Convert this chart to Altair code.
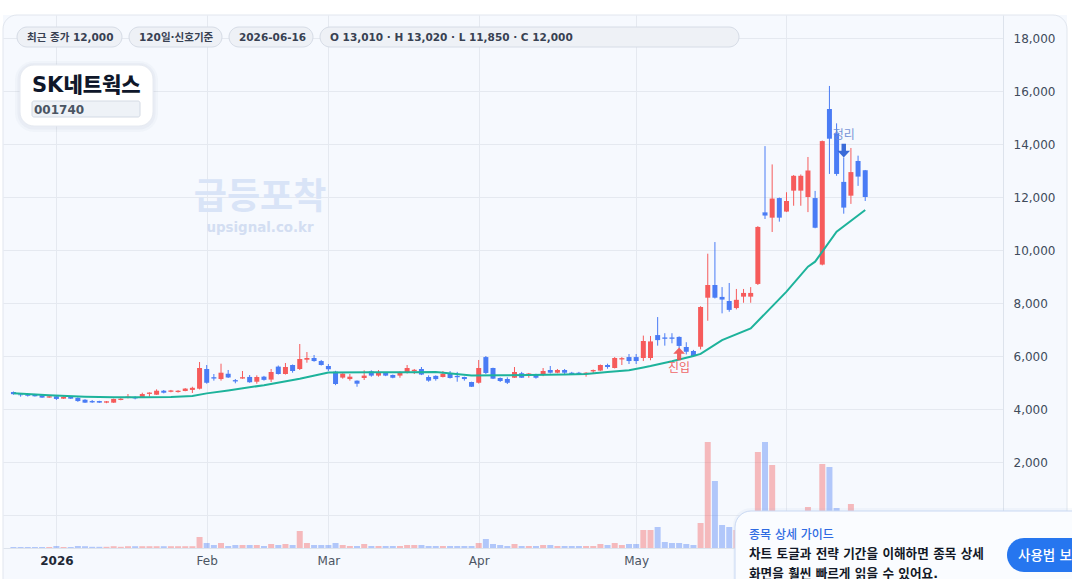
import altair as alt
import pandas as pd

# ---------------- data ----------------
opens = [4640, 4550, 4530, 4550, 4520, 4430, 4480, 4390, 4470, 4420,
         4350, 4300, 4300, 4240, 4240, 4340, 4415, 4440, 4455, 4570,
         4540, 4690, 4650, 4640, 4680, 4720, 4766, 5510, 5200, 5130,
         5330, 5090, 5150, 5210, 5030, 5220, 5110, 5600, 5320, 5660,
         5510, 5860, 5925, 5810, 5623, 5410, 5185, 5130, 5070, 5170,
         5420, 5260, 5360, 5283, 5260, 5370, 5430, 5510, 5207, 5250,
         5207, 5330, 5250, 5207, 5020, 4990, 5960, 5547, 5170, 5132,
         5180, 5350, 5290, 5283, 5283, 5472, 5370, 5472, 5370, 5370,
         5320, 5420, 5450, 5660, 5547, 5870, 5960, 5960, 5925, 5925,
         6790, 6700, 6700, 6720, 6340, 6190, 6350, 8200, 8680, 8230,
         8075, 7810, 8240, 8240, 8720, 11420, 11220, 11960, 11450, 12240,
         12240, 12000, 11960, 9450, 15320, 14400, 12570, 12050, 13360, 13010]
highs = [4660, 4590, 4560, 4570, 4530, 4500, 4490, 4480, 4480, 4440,
         4370, 4340, 4310, 4300, 4390, 4410, 4566, 4480, 4615, 4630,
         4743, 4717, 4720, 4710, 4790, 4840, 5774, 5660, 5320, 5710,
         5472, 5132, 5434, 5283, 5270, 5250, 5510, 5640, 5736, 5680,
         6453, 6150, 6038, 5850, 5698, 5440, 5350, 5320, 5080, 5460,
         5460, 5470, 5380, 5300, 5420, 5660, 5510, 5585, 5270, 5270,
         5434, 5434, 5400, 5220, 5030, 5850, 6000, 5560, 5190, 5196,
         5585, 5400, 5360, 5330, 5547, 5623, 5510, 5510, 5400, 5400,
         5390, 5490, 5680, 5710, 5960, 5960, 6075, 6075, 6770, 6755,
         7470, 6860, 6860, 6740, 6520, 6230, 7880, 9860, 10300, 8600,
         8755, 8530, 8530, 8600, 10900, 13920, 13230, 11980, 12180, 12830,
         12850, 13510, 12230, 14130, 16190, 14780, 13490, 13850, 13560, 13020]
lows = [4540, 4465, 4470, 4470, 4420, 4420, 4340, 4380, 4380, 4270,
        4230, 4230, 4230, 4220, 4230, 4330, 4400, 4365, 4440, 4465,
        4530, 4590, 4630, 4620, 4670, 4604, 4740, 4955, 5070, 5070,
        5170, 4970, 5140, 4990, 4955, 5070, 5020, 5300, 5300, 5370,
        5472, 5747, 5785, 5640, 5434, 4900, 5145, 5070, 4840, 5094,
        5220, 5220, 5240, 5160, 5180, 5340, 5320, 5280, 5030, 5070,
        5190, 5150, 5030, 5070, 4830, 4960, 5320, 5130, 5020, 4943,
        5170, 5170, 5180, 5145, 5240, 5340, 5350, 5283, 5283, 5300,
        5220, 5350, 5430, 5520, 5530, 5660, 5698, 5698, 5810, 5840,
        6390, 6390, 6480, 6290, 6060, 5980, 6250, 7330, 8170, 7610,
        7670, 7760, 8010, 8010, 8680, 11170, 10680, 11070, 11430, 11670,
        11670, 11430, 10820, 9420, 12870, 12800, 11370, 11740, 12420, 11850]
closes = [4560, 4520, 4500, 4480, 4430, 4480, 4380, 4460, 4390, 4300,
          4240, 4250, 4240, 4290, 4380, 4390, 4470, 4400, 4565, 4620,
          4690, 4615, 4700, 4690, 4770, 4800, 5547, 4990, 5150, 5370,
          5190, 5040, 5200, 5010, 5207, 5100, 5397, 5320, 5585, 5434,
          5887, 5925, 5810, 5660, 5500, 4943, 5335, 5220, 4955, 5260,
          5260, 5370, 5260, 5180, 5370, 5547, 5480, 5300, 5070, 5130,
          5330, 5170, 5200, 5130, 4840, 5547, 5360, 5145, 5057, 4990,
          5397, 5180, 5340, 5180, 5434, 5370, 5472, 5370, 5320, 5320,
          5370, 5470, 5660, 5585, 5925, 5920, 5810, 5810, 6566, 6550,
          6600, 6650, 6650, 6380, 6160, 6000, 7850, 8680, 8200, 8130,
          7740, 8120, 8380, 8380, 10870, 11300, 11940, 11220, 11850, 12800,
          12800, 13000, 10840, 14110, 14200, 12870, 11600, 12940, 12770, 12000]
volumes = [25, 25, 25, 25, 25, 25, 50, 25, 25, 50,
           45, 30, 30, 30, 45, 30, 45, 45, 45, 45,
           45, 45, 45, 45, 45, 45, 275, 125, 75, 125,
           50, 75, 75, 75, 75, 50, 100, 75, 100, 75,
           425, 125, 75, 75, 75, 125, 75, 50, 50, 100,
           50, 50, 50, 50, 50, 75, 75, 75, 50, 50,
           50, 50, 50, 50, 50, 125, 225, 100, 75, 50,
           100, 50, 50, 50, 75, 75, 50, 50, 50, 50,
           50, 50, 100, 75, 125, 75, 100, 100, 450, 450,
           525, 150, 125, 125, 100, 75, 625, 2650, 1675, 575,
           525, 450, 300, 350, 2400, 2650, 2075, 750, 500, 625,
           550, 1025, 750, 2100, 2025, 1000, 700, 1100, 550, 750]
ma_idx = [0, 5, 10, 14, 18, 22, 25, 27, 30, 35, 40, 44, 50, 55, 59, 64, 68,
          72, 77, 80, 83, 86, 88, 89, 92, 95, 96, 99, 103, 108, 111, 112, 115, 119]
ma_val = [4590, 4515, 4465, 4440, 4440, 4450, 4490, 4590, 4700, 4900, 5140, 5380,
          5390, 5390, 5400, 5260, 5270, 5280, 5300, 5320, 5400, 5460, 5570, 5620,
          5800, 6000, 6080, 6600, 7040, 8430, 9370, 9560, 10690, 11510]
# month ticks (trading-day index); the June label sits under the guide popup, so it is blank
tick_idx = [6, 27, 44, 65, 87, 108]
tick_lbl = ["2026", "Feb", "Mar", "Apr", "May", ""]
y_ticks = [0, 2000, 4000, 6000, 8000, 10000, 12000, 14000, 16000, 18000]
entry_idx, entry_price, entry_text_price = [93], [6060], [5550]
exit_idx, exit_price, exit_text_price = [116], [13770], [14340]

# ---------------- styling ----------------
RED = "#f65b5b"
BLUE = "#4a7cf5"
TEAL = "#1db39b"
FONT = "DejaVu Sans, Noto Sans CJK KR"
CARD = "#f6f9fe"
GRID = "#e5e9f0"

n = len(opens)
df = pd.DataFrame({"i": list(range(n)), "open": opens, "high": highs,
                   "low": lows, "close": closes, "vol": volumes})
df["dir"] = ["up" if c >= o else "down" for o, c in zip(opens, closes)]
ma_df = pd.DataFrame({"i": ma_idx, "ma": ma_val})
entry_df = pd.DataFrame({"i": entry_idx, "p": entry_price, "tp": entry_text_price})
exit_df = pd.DataFrame({"i": exit_idx, "p": exit_price, "tp": exit_text_price})
one = pd.DataFrame({"k": [0]})

XS = alt.Scale(domain=[-0.7607, 137.55], nice=False, zero=False)
YS = alt.Scale(domain=[-1245, 18868], nice=False, zero=False)
VS = alt.Scale(domain=[0, 13325], nice=False, zero=True)
col = alt.Color("dir:N", scale=alt.Scale(domain=["up", "down"], range=[RED, BLUE]), legend=None)

lbl_expr = " : ".join(f"datum.value == {v} ? '{t}'" for v, t in zip(tick_idx, tick_lbl)) + " : ''"
first = tick_idx[0]
xaxis = alt.Axis(values=tick_idx, labelExpr=lbl_expr, grid=True, gridColor=GRID,
                 domainColor="#dde3ec", ticks=False, labelPadding=7, labelFontSize=12,
                 labelFont=FONT,
                 labelColor={"condition": {"test": f"datum.value == {first}", "value": "#1f2937"}, "value": "#4b5563"},
                 labelFontWeight={"condition": {"test": f"datum.value == {first}", "value": "bold"}, "value": "normal"},
                 title=None, labelFlush=False, labelOverlap=False)
yaxis = alt.Axis(orient="right", values=y_ticks,
                 labelExpr="datum.value == 0 ? '' : format(datum.value, ',')",
                 grid=True, gridColor=GRID, domainColor="#dde3ec", ticks=False,
                 labelPadding=10, labelAlign="left", labelFontSize=12, labelFont=FONT,
                 labelColor="#404b5b", title=None)

X = alt.X("i:Q", scale=XS, axis=xaxis)

vol = alt.Chart(df).mark_bar(size=6, orient="vertical", opacity=0.4).encode(
    x=X, y=alt.Y("vol:Q", scale=VS, axis=None), color=col)
wick = alt.Chart(df).mark_rule(strokeWidth=1).encode(
    x=X, y=alt.Y("low:Q", scale=YS, axis=yaxis), y2="high:Q", color=col)
body = alt.Chart(df).mark_bar(size=5, orient="vertical").encode(
    x=X, y=alt.Y("open:Q", scale=YS, axis=None), y2="close:Q", color=col)
ma = alt.Chart(ma_df).mark_line(color=TEAL, strokeWidth=2).encode(
    x=X, y=alt.Y("ma:Q", scale=YS, axis=None))

UP_ARROW = "M0,-1L0.85,-0.1L0.3,-0.1L0.3,0.85L-0.3,0.85L-0.3,-0.1L-0.85,-0.1Z"
DOWN_ARROW = "M0,1L0.85,0.1L0.3,0.1L0.3,-0.85L-0.3,-0.85L-0.3,0.1L-0.85,0.1Z"
entry_mark = alt.Chart(entry_df).mark_point(shape=UP_ARROW, filled=True, size=190, color="#f04f4f",
                                            opacity=0.9, strokeWidth=0).encode(
    x=X, y=alt.Y("p:Q", scale=YS, axis=None))
entry_txt = alt.Chart(entry_df).mark_text(text="진입", font=FONT, fontSize=12, color="#ef6767").encode(
    x=X, y=alt.Y("tp:Q", scale=YS, axis=None))
exit_mark = alt.Chart(exit_df).mark_point(shape=DOWN_ARROW, filled=True, size=220, color="#2f63d6",
                                          opacity=0.95, strokeWidth=0).encode(
    x=X, y=alt.Y("p:Q", scale=YS, axis=None))
exit_txt = alt.Chart(exit_df).mark_text(text="정리", font=FONT, fontSize=12, color="#6a8bd4", opacity=0.9).encode(
    x=X, y=alt.Y("tp:Q", scale=YS, axis=None))


def rect(x1, y1, x2, y2, **kw):
    return alt.Chart(one).mark_rect(**kw).encode(
        x=alt.value(x1), x2=alt.value(x2), y=alt.value(y1), y2=alt.value(y2))


def text(x, y, t, **kw):
    base = dict(align="left", baseline="middle", font=FONT)
    base.update(kw)
    return alt.Chart(one).mark_text(**base).encode(x=alt.value(x), y=alt.value(y), text=alt.value(t))


deco_back = [
    rect(-3, -15, 1069, 0, fill="white"),
    rect(-3, -15, 0, 570, fill="white"),
    rect(1064, -15, 1069, 570, fill="white"),
    rect(0, 0, 1064, 600, fillOpacity=0, stroke="#e1e6ee", strokeWidth=1, cornerRadius=14),
    text(257, 183, "급등포착", align="center", fontSize=36, fontWeight="bold", color="#d9e4f7"),
    text(257, 213, "upsignal.co.kr", align="center", fontSize=13.4, fontWeight="bold", color="#d3def2"),
]

pills = []
for (x1, x2, t) in [(14, 119, "최근 종가 12,000"), (126, 219, "120일·신호기준"),
                    (226, 310, "2026-06-16"), (317, 736, "O 13,010 · H 13,020 · L 11,850 · C 12,000")]:
    pills.append(rect(x1, 12, x2, 32, fill="#eef1f6", stroke="#d6dce6", strokeWidth=1, cornerRadius=10))
    pills.append(text(x1 + 10, 22.5, t, fontSize=10.5, fontWeight="bold", color="#384152"))

logo = [
    rect(12, 46, 155, 117, fill="#8a9bb5", opacity=0.05, cornerRadius=19),
    rect(14.5, 48, 152.5, 114.5, fill="#8a9bb5", opacity=0.07, cornerRadius=16),
    rect(17, 50, 150, 111, fill="white", stroke="#e6eaf1", strokeWidth=1, cornerRadius=14),
    text(29, 71, "SK네트웍스", fontSize=21, fontWeight=900, color="#0f172a"),
    rect(29, 86, 137, 102, fill="#eef2f7", stroke="#d3dae4", strokeWidth=1, cornerRadius=2),
    text(31, 94.5, "001740", fontSize=12, fontWeight="bold", color="#4b5563"),
]

popup = [
    rect(730, 493, 1095, 600, fill="#9fb4dc", opacity=0.08, cornerRadius=18),
    rect(732, 496, 1090, 600, fill="#fafcff", stroke="#c9d8f3", strokeWidth=1, cornerRadius=16),
    text(746, 519.5, "종목 상세 가이드", fontSize=12, fontWeight=500, color="#2f6be2"),
    text(746, 538.5, "차트 토글과 전략 기간을 이해하면 종목 상세", fontSize=12.6, fontWeight="bold", color="#121826"),
    text(746, 558.5, "화면을 훨씬 빠르게 읽을 수 있어요.", fontSize=12.6, fontWeight="bold", color="#121826"),
    rect(1004, 523, 1110, 557, fill="#2676ef", cornerRadius=17),
    text(1015, 540.5, "사용법 보기", fontSize=13.5, fontWeight=500, color="white"),
]

chart = alt.layer(
    *deco_back, vol, wick, body, ma, entry_mark, entry_txt, exit_mark, exit_txt,
    *pills, *logo, *popup
).resolve_scale(y="independent").properties(
    width=1000, height=533,
    padding={"left": 3, "top": 15, "right": 69, "bottom": 31},
    autosize=alt.AutoSizeParams(type="none"),
    background=CARD,
).configure_view(stroke=None)

chart.save("out.html", embed_options={"renderer": "svg", "actions": False})
